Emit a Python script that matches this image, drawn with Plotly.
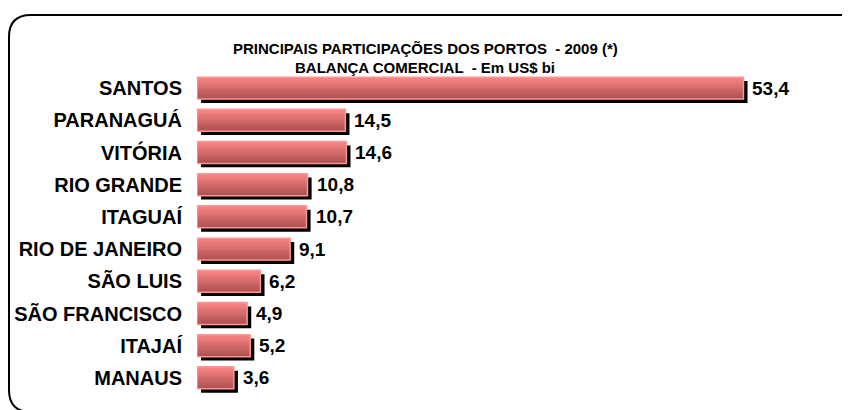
import plotly.graph_objects as go

# Dados
portos = ["SANTOS", "PARANAGUÁ", "VITÓRIA", "RIO GRANDE", "ITAGUAÍ",
          "RIO DE JANEIRO", "SÃO LUIS", "SÃO FRANCISCO", "ITAJAÍ", "MANAUS"]
valores = [53.4, 14.5, 14.6, 10.8, 10.7, 9.1, 6.2, 4.9, 5.2, 3.6]
rotulos = ["53,4", "14,5", "14,6", "10,8", "10,7", "9,1", "6,2", "4,9", "5,2", "3,6"]
titulo1 = "PRINCIPAIS PARTICIPAÇÕES DOS PORTOS  - 2009 (*)"
titulo2 = "BALANÇA COMERCIAL  - Em US$ bi"

W, H = 850, 410
OFF = 8  # margem padrão do <body> na página
ML, MR, MT, MB = 189, 47, 64, 24
PW, PH = W - ML - MR, H - MT - MB
FONTE = "Arial, Liberation Sans, sans-serif"


def px_x(x):
    # x em pixels da página -> coordenada paper
    return (x - OFF - ML) / PW


def px_y(y):
    return (H - MB - (y - OFF)) / PH


def hex_mix(c1, c2, t):
    a = [int(c1[i:i + 2], 16) for i in (1, 3, 5)]
    b = [int(c2[i:i + 2], 16) for i in (1, 3, 5)]
    return "#%02x%02x%02x" % tuple(round(a[k] + (b[k] - a[k]) * t) for k in range(3))


larg = 0.68
fig = go.Figure()

# sombra preta
fig.add_trace(go.Bar(
    y=portos, x=valores, base=0.4, orientation="h",
    width=larg, offset=-larg / 2 + 0.12,
    marker=dict(color="black", line=dict(width=0)),
    hoverinfo="skip", showlegend=False,
))

# degradê: faixas horizontais
n = 12
for i in range(n):
    fig.add_trace(go.Bar(
        y=portos, x=valores, orientation="h",
        width=larg / n + 0.003, offset=-larg / 2 + i * larg / n,
        marker=dict(color=hex_mix("#fa8686", "#b05252", i / (n - 1)), line=dict(width=0)),
        hoverinfo="skip", showlegend=False,
    ))

# contorno
fig.add_trace(go.Bar(
    y=portos, x=valores, orientation="h",
    width=larg, offset=-larg / 2,
    marker=dict(color="rgba(0,0,0,0)", line=dict(color="#ff9494", width=1.5)),
    showlegend=False,
))

for p, v, r in zip(portos, valores, rotulos):
    fig.add_annotation(x=v, y=p, text=r, showarrow=False, xanchor="left",
                       xshift=7, font=dict(family=FONTE, size=19, color="black", weight="bold"))

fig.add_annotation(xref="paper", yref="paper", x=px_x(425), y=px_y(38), text=titulo1,
                   showarrow=False, font=dict(family=FONTE, size=15, color="black", weight="bold"))
fig.add_annotation(xref="paper", yref="paper", x=px_x(425), y=px_y(57), text=titulo2,
                   showarrow=False, font=dict(family=FONTE, size=15, color="black", weight="bold"))

# moldura arredondada
x0, x1, y0, y1, r = 9, 862, 15, 412, 22
caminho = "M %f,%f L %f,%f Q %f,%f %f,%f L %f,%f Q %f,%f %f,%f L %f,%f Q %f,%f %f,%f L %f,%f Q %f,%f %f,%f Z" % (
    px_x(x0 + r), px_y(y0), px_x(x1 - r), px_y(y0), px_x(x1), px_y(y0), px_x(x1), px_y(y0 + r),
    px_x(x1), px_y(y1 - r), px_x(x1), px_y(y1), px_x(x1 - r), px_y(y1),
    px_x(x0 + r), px_y(y1), px_x(x0), px_y(y1), px_x(x0), px_y(y1 - r),
    px_x(x0), px_y(y0 + r), px_x(x0), px_y(y0), px_x(x0 + r), px_y(y0))
fig.add_shape(type="path", xref="paper", yref="paper", path=caminho,
              line=dict(color="black", width=2))

fig.update_layout(
    width=W, height=H, barmode="overlay",
    margin=dict(l=ML, r=MR, t=MT, b=MB),
    plot_bgcolor="white", paper_bgcolor="white",
    font=dict(family=FONTE, color="black"),
)
fig.update_xaxes(range=[0, 60], visible=False, automargin=False)
fig.update_yaxes(range=[9.5, -0.5], showgrid=False, zeroline=False, showline=False,
                 ticks="", ticklabelstandoff=14, automargin=False,
                 tickfont=dict(family=FONTE, size=20, color="black", weight="bold"))

fig.write_html("out.html")
